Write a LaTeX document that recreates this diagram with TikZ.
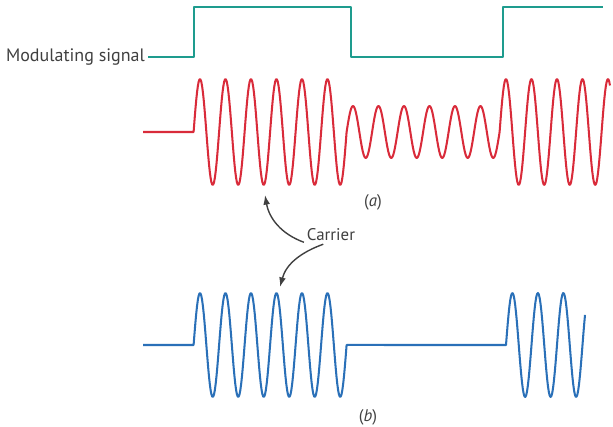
\documentclass[tikz,border=0pt]{standalone}
\usepackage{fontspec}
\setmainfont{PT Sans}
\setsansfont{PT Sans}
\usepackage{tikz}
\usetikzlibrary{positioning,arrows.meta}
\definecolor{Ink}{HTML}{404040}
\definecolor{Mod}{HTML}{1E9C8E}
\definecolor{AmRed}{HTML}{D92B3A}
\definecolor{OokBlue}{HTML}{2A70B8}

\begin{document}
\begin{tikzpicture}[
  x=0.025cm,
  y=-0.025cm,
  every node/.style={
    font=\sffamily\fontsize{12}{14}\selectfont,
    text=Ink,
    inner sep=2pt
  },
  wave/.style={
    line width=1.45pt,
    line join=round
  },
  pointer/.style={
    -{Latex[length=2.4mm,width=1.7mm]},
    Ink,
    line width=1pt
  }
]

\useasboundingbox (0,0) rectangle (613,427);

% modulating signal
\node[
  anchor=east,
  font=\sffamily\fontsize{12.8}{15}\selectfont
] (mod) at (148,57) {Modulating signal};

\draw[wave, Mod] (mod.east) -- (194,57) -- (194,7) -- (351,7)
  -- (351,57) -- (503,57) -- (503,7) -- (603,7);

% (a) amplitude modulated carrier
\draw[wave, AmRed] (143,132) -- (193.6,132)
  -- plot[domain=193.6:346.6, samples=181] (\x, {132-53*sin(14.118*(\x-193.6))})
  -- plot[domain=346.6:499.6, samples=181] (\x, {132-26*sin(14.118*(\x-346.6))})
  -- plot[domain=499.6:610, samples=131] (\x, {132-53*sin(14.118*(\x-499.6))});

% (b) on-off keyed carrier
\draw[wave, OokBlue] (143,345) -- (193.6,345)
  -- plot[domain=193.6:346.6, samples=181] (\x, {345-52*sin(14.118*(\x-193.6))})
  -- (506,345)
  -- plot[domain=506:585, samples=95] (\x, {345-52*sin(14.118*(\x-506))});

\node (sa) at (373,202) {(\textit{a})};
\node (sb) at (368,417) {(\textit{b})};

\node (car) at (331,235) {Carrier};

\coordinate (ta) at (265,195);
\coordinate (tb) at (280,287);

\draw[pointer] (car.195) to[out=160,in=-80] (ta);
\draw[pointer] (car.-130) to[out=200,in=75] (tb);

\end{tikzpicture}
\end{document}
